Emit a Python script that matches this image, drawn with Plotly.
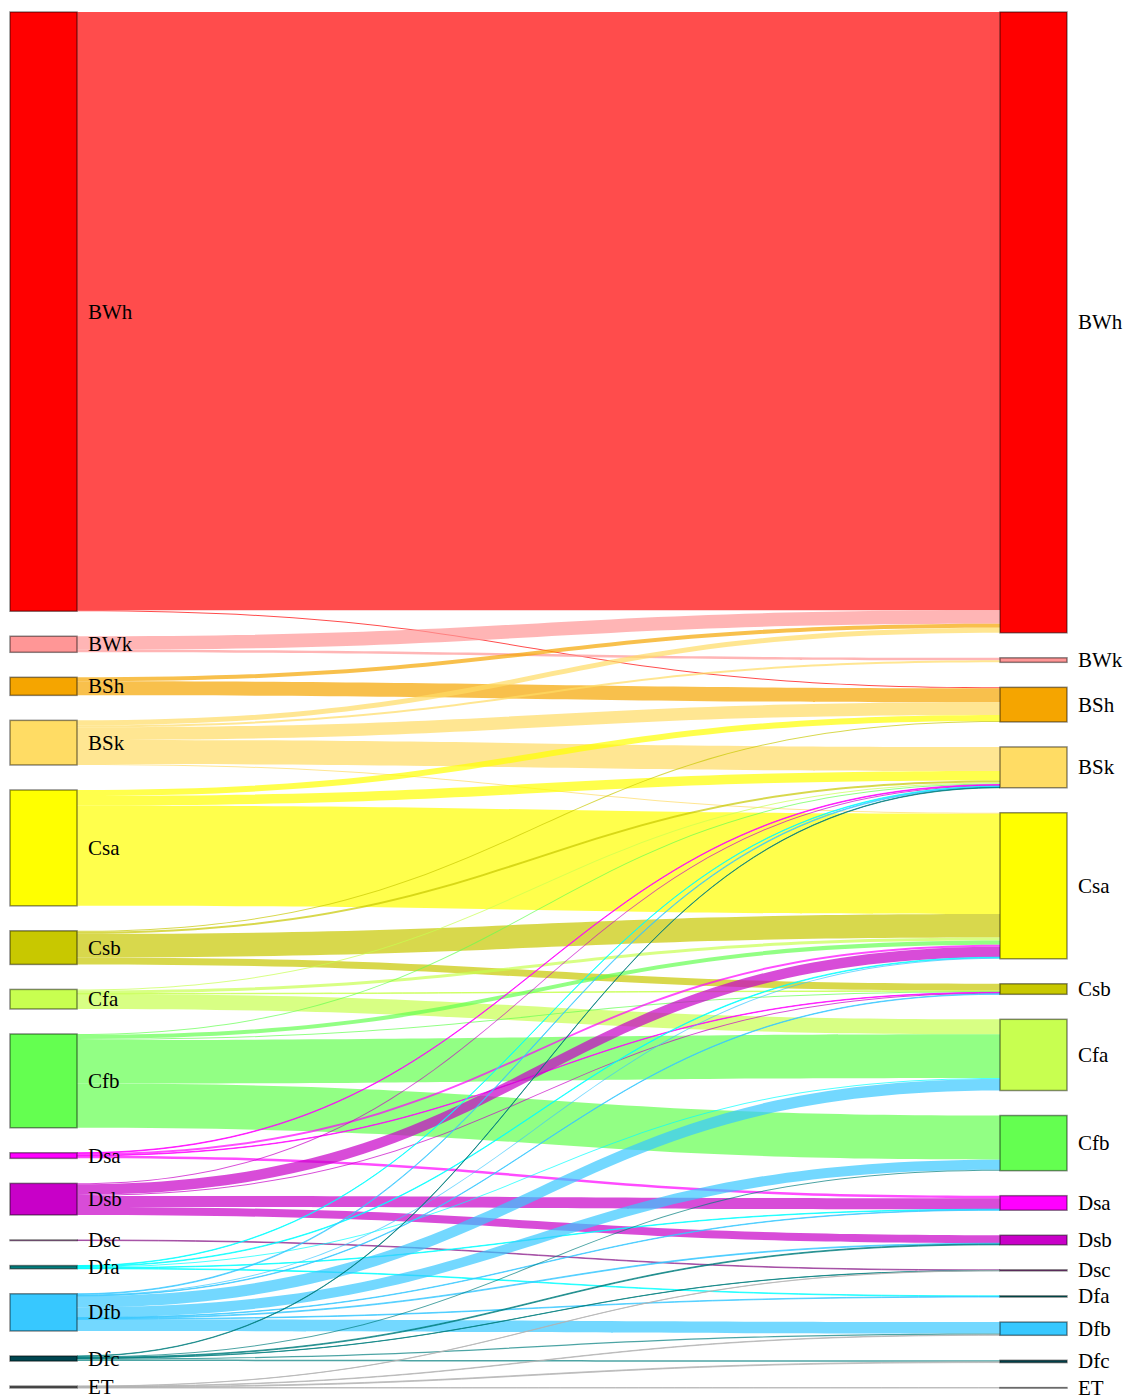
import plotly.graph_objects as go

# Köppen classes (same order in both periods)
classes = ["BWh", "BWk", "BSh", "BSk", "Csa", "Csb", "Cfa", "Cfb",
           "Dsa", "Dsb", "Dsc", "Dfa", "Dfb", "Dfc", "ET"]

node_colors = ["rgb(255,0,0)", "rgb(255,150,150)", "rgb(245,165,0)", "rgb(255,220,100)",
               "rgb(255,255,0)", "rgb(200,200,0)", "rgb(200,255,80)", "rgb(100,255,80)",
               "rgb(255,0,255)", "rgb(200,0,200)", "rgb(150,50,150)", "rgb(0,125,125)",
               "rgb(55,200,255)", "rgb(0,70,80)", "rgb(102,102,102)"]

link_colors = ["rgba(255,0,0,0.7)", "rgba(255,150,150,0.7)", "rgba(245,165,0,0.7)",
               "rgba(255,220,100,0.7)", "rgba(255,255,0,0.7)", "rgba(200,200,0,0.7)",
               "rgba(200,255,80,0.7)", "rgba(100,255,80,0.7)", "rgba(255,0,255,0.7)",
               "rgba(200,0,200,0.7)", "rgba(150,50,150,0.7)", "rgba(0,255,255,0.7)",
               "rgba(55,200,255,0.7)", "rgba(0,125,125,0.7)", "rgba(178,178,178,0.7)"]

# class transitions: origin class -> destination class, with area
flow_from = ["BWh", "BWh",
             "BWk", "BWk",
             "BSh", "BSh",
             "BSk", "BSk", "BSk", "BSk", "BSk",
             "Csa", "Csa", "Csa",
             "Csb", "Csb", "Csb", "Csb",
             "Cfa", "Cfa", "Cfa", "Cfa",
             "Cfb", "Cfb", "Cfb", "Cfb", "Cfb",
             "Dsa", "Dsa", "Dsa", "Dsa",
             "Dsb", "Dsb", "Dsb", "Dsb", "Dsb",
             "Dsc",
             "Dfa", "Dfa", "Dfa", "Dfa", "Dfa",
             "Dfb", "Dfb", "Dfb", "Dfb", "Dfb", "Dfb", "Dfb", "Dfb", "Dfb",
             "Dfc", "Dfc", "Dfc", "Dfc", "Dfc", "Dfc",
             "ET", "ET", "ET", "ET"]
flow_to = ["BWh", "BSh",
           "BWh", "BWk",
           "BWh", "BSh",
           "BWh", "BWk", "BSh", "BSk", "Csa",
           "BSh", "BSk", "Csa",
           "BSh", "BSk", "Csa", "Csb",
           "BSk", "Csa", "Csb", "Cfa",
           "BSk", "Csa", "Csb", "Cfa", "Cfb",
           "BSk", "Csa", "Csb", "Dsa",
           "BSk", "Csa", "Csb", "Dsa", "Dsb",
           "Dsc",
           "BSk", "Csa", "Cfa", "Dsa", "Dfa",
           "BSk", "Csa", "Csb", "Cfa", "Cfb", "Dsa", "Dsb", "Dfa", "Dfb",
           "BSk", "Cfb", "Dsb", "Dsc", "Dfb", "Dfc",
           "Dsc", "Dfb", "Dfc", "ET"]
flow_value = [596.5, 1.0,
              13.5, 2.5,
              4, 14,
              5, 2, 12.5, 24, 1,
              6, 9.5, 100,
              1, 2, 23.5, 7,
              1, 3, 0.5, 15,
              1, 4, 1, 43.5, 44,
              0.6, 2, 0.5, 2.5,
              1, 10.5, 1, 11, 8,
              0.6,
              0.5, 0.6, 1.0, 0.5, 0.6,
              0.7, 1, 0.5, 11.5, 10, 0.5, 0.8, 0.6, 11.5,
              0.4, 1, 0.8, 0.2, 1.2, 1.5,
              0.2, 0.5, 0.8, 0.4]

# ---- geometry of the diagram ----
FIG_W, FIG_H = 1129, 1397
M_L, M_R, M_T, M_B = 10, 62, 12, 9
PLOT_W = FIG_W - M_L - M_R
PLOT_H = FIG_H - M_T - M_B
THICK = 67
PAD = 25
LABEL_GAP = 9

n = len(classes)
idx = {c: i for i, c in enumerate(classes)}

out_tot = [0.0] * n
in_tot = [0.0] * n
for a, b, v in zip(flow_from, flow_to, flow_value):
    out_tot[idx[a]] += v
    in_tot[idx[b]] += v

# node centres, stacked in class order inside each column (same scale as plotly)
ky = (PLOT_H - (n - 1) * PAD) / sum(flow_value)


def centres(totals):
    pos, y = [], 0.0
    for t in totals:
        h = t * ky
        pos.append((y + h / 2) / PLOT_H)
        y += h + PAD
    return pos


y_left = centres(out_tot)
y_right = centres(in_tot)
x_left = (THICK / 2) / PLOT_W
x_right = 1 - (THICK / 2) / PLOT_W

src = [idx[a] for a in flow_from]
tgt = [idx[b] + n for b in flow_to]
lcol = [link_colors[idx[a]] for a in flow_from]

fig = go.Figure(go.Sankey(
    arrangement="fixed",
    node=dict(
        label=[""] * (2 * n),
        customdata=classes + classes,
        hovertemplate="%{customdata}: %{value}<extra></extra>",
        color=node_colors + node_colors,
        x=[x_left] * n + [x_right] * n,
        y=y_left + y_right,
        pad=PAD,
        thickness=THICK,
        line=dict(color="rgba(0,0,0,0.45)", width=1.5),
    ),
    link=dict(source=src, target=tgt, value=flow_value, color=lcol,
              line=dict(width=0)),
))

# class names beside every node (outside on both columns)
label_font = dict(family="Liberation Serif, Times New Roman, serif", size=21, color="black")
for i, c in enumerate(classes):
    fig.add_annotation(x=(THICK + LABEL_GAP) / PLOT_W, y=1 - y_left[i], xref="paper", yref="paper",
                       text=c, showarrow=False, xanchor="left", yanchor="middle", font=label_font)
    fig.add_annotation(x=1 + LABEL_GAP / PLOT_W, y=1 - y_right[i], xref="paper", yref="paper",
                       text=c, showarrow=False, xanchor="left", yanchor="middle", font=label_font)

fig.update_layout(
    width=FIG_W, height=FIG_H,
    margin=dict(l=M_L, r=M_R, t=M_T, b=M_B),
    paper_bgcolor="white",
    font=label_font,
)

fig.write_html("out.html")
